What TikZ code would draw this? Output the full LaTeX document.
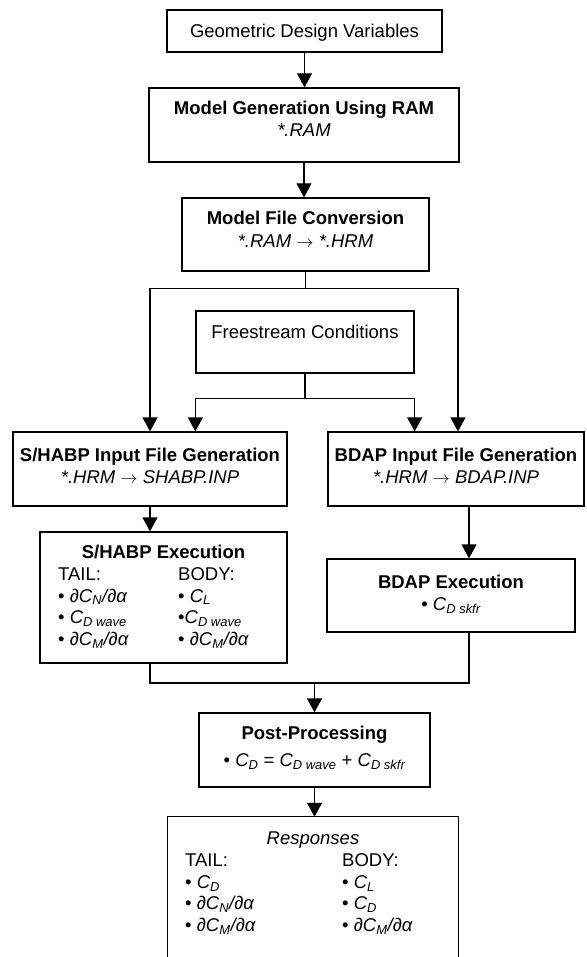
\documentclass[tikz,border=0pt]{standalone}
\usepackage{fontspec}
\setmainfont{Liberation Sans}
\usepackage{tikz}
\usetikzlibrary{arrows.meta, positioning}

\tikzset{
  box/.style={draw, line width=1.3pt, inner sep=0pt},
  txt/.style={anchor=base, align=center, inner sep=0pt, font=\fontsize{18.5}{22.5}\selectfont},
  col/.style={anchor=base west, align=left, inner sep=0pt, font=\fontsize{18.5}{21.7}\selectfont},
  conn/.style={line width=1.3pt},
  arr/.style={line width=1.3pt, -{Triangle[length=14pt, width=15pt]}},
}

\newcommand{\dd}[1]{\textit{∂C\textsubscript{#1}/∂α}}
\newcommand{\cc}[1]{\textit{C\textsubscript{#1}}}

\begin{document}
\begin{tikzpicture}[x=1pt, y=-1pt]
\useasboundingbox (0,0) rectangle (586,957);

% Kaesten
\node[box, minimum width=275pt, minimum height=42pt] (geo) at (304.5,31) {};
\node[box, minimum width=310pt, minimum height=74pt] (gen) at (304,125) {};
\node[box, minimum width=247pt, minimum height=73pt] (conv) at (305.5,234.5) {};
\node[box, minimum width=218pt, minimum height=62pt] (free) at (305,342) {};
\node[box, minimum width=274pt, minimum height=74pt] (shin) at (150,469) {};
\node[box, minimum width=256pt, minimum height=74pt] (bdin) at (456,469) {};
\node[box, minimum width=247pt, minimum height=131pt] (shex) at (163.5,597.5) {};
\node[box, minimum width=248pt, minimum height=73pt] (bdex) at (451,595.5) {};
\node[box, minimum width=231pt, minimum height=74pt] (post) at (314.5,750) {};
\node[inner sep=0pt, minimum width=290pt, minimum height=140pt] (resp) at (313,887) {};
\draw[conn] (resp.south west) -- (resp.north west) -- (resp.north east) -- (resp.south east);

% Beschriftungen (Anker = Grundlinie der letzten Zeile)
\node[txt] (geotxt) at (304.5,37.5) {Geometric Design Variables};
\node[txt] (gentxt) at (304,137) {\textbf{Model Generation Using RAM}\\ \textit{*.RAM}};
\node[txt] (convtxt) at (305.5,247.5) {\textbf{Model File Conversion}\\ \textit{*.RAM} $\rightarrow$ \textit{*.HRM}};
\node[txt] (freetxt) at (305,338.5) {Freestream Conditions};
\node[txt] (shintxt) at (150,483.5) {\textbf{S/HABP Input File Generation}\\ \textit{*.HRM} $\rightarrow$ \textit{SHABP.INP}};
\node[txt] (bdintxt) at (456,483.5) {\textbf{BDAP Input File Generation}\\ \textit{*.HRM} $\rightarrow$ \textit{BDAP.INP}};
\node[txt] (shextxt) at (163.5,558.5) {\textbf{S/HABP Execution}};
\node[col] (shtail) at (58,645.4) {TAIL:\\ \textbullet{} \dd{N}\\ \textbullet{} \cc{D wave}\\ \textbullet{} \dd{M}};
\node[col] (shbody) at (178,645.4) {BODY:\\ \textbullet{} \cc{L}\\ \textbullet\cc{D wave}\\ \textbullet{} \dd{M}};
\node[txt] (bdextxt) at (451,610.5) {\textbf{BDAP Execution}\\ \textbullet{} \cc{D skfr}};
\node[txt] (posttxt) at (314.5,766.5) {\textbf{Post-Processing}\\[4.5pt] \textbullet{} \cc{D} = \cc{D wave} + \cc{D skfr}};
\node[txt] (resptxt) at (313,844) {\textit{Responses}};
\node[col] (rstail) at (185,931.6) {TAIL:\\ \textbullet{} \cc{D}\\ \textbullet{} \dd{N}\\ \textbullet{} \dd{M}};
\node[col] (rsbody) at (342,931.6) {BODY:\\ \textbullet{} \cc{L}\\ \textbullet{} \cc{D}\\ \textbullet{} \dd{M}};

% Verbindungen
\draw[arr] (geo.south) -- (geo.south |- gen.north);
\draw[arr] (gen.south) -- (gen.south |- conv.north);
\draw[conn] (conv.south) -- ++(0,17) coordinate (split);
\draw[arr] (split) -| (shin.north);
\draw[arr] (split) -| ([xshift=2pt]bdin.north);
\draw[conn] (free.south) -- ++(0,25) coordinate (fork);
\draw[arr] (fork) -| (free.west |- shin.north);
\draw[arr] (fork) -| (free.east |- bdin.north);
\draw[arr] (shin.south) -- (shin.south |- shex.north);
\coordinate (bdtap) at ([xshift=13pt]bdin.south);
\draw[arr] (bdtap) -- (bdtap |- bdex.north);
\coordinate (join) at (314.5,683);
\draw[conn] (shin.south |- shex.south) |- (join);
\draw[conn] (bdtap |- bdex.south) |- (join);
\draw[arr] (join) -- (post.north);
\draw[arr] (post.south) -- (post.south |- resp.north);

\end{tikzpicture}
\end{document}
